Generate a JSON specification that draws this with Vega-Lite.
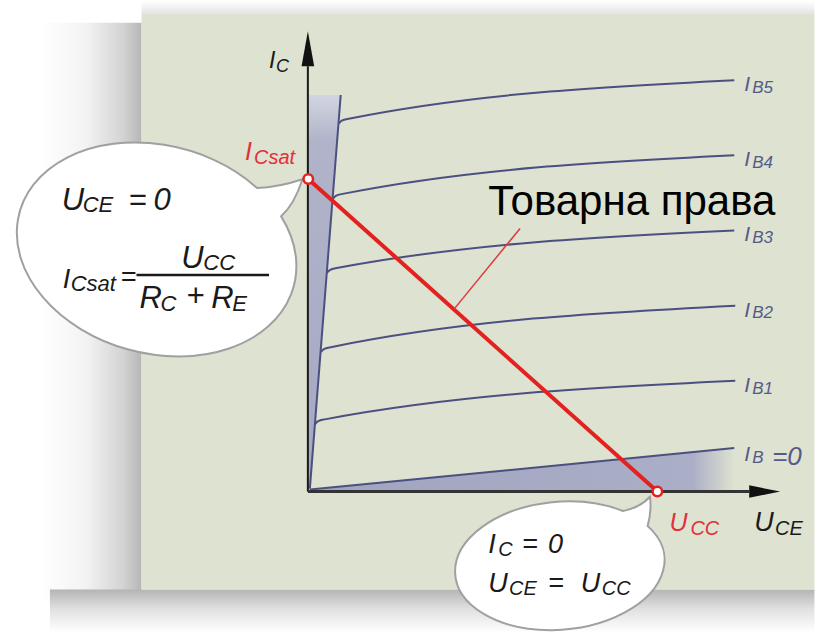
{
  "$schema": "https://vega.github.io/schema/vega-lite/v6.json",
  "width": 815,
  "height": 634,
  "padding": 0,
  "autosize": {"type": "fit", "contains": "padding"},
  "background": "#ffffff",
  "config": {"view": {"stroke": null}},
  "datasets": {
    "shadowTop": [{"u": -4.777, "u2": 14.5, "i": 15.7, "i2": 15.285}],
    "shadowLeft": [{"u": -7.69, "u2": -4.777, "i": 15.0, "i2": -3.5}],
    "shadowBottom": [{"u": -7.4, "u2": 14.5, "i": -3.133, "i2": -4.5}],
    "panel": [{"u": -4.777, "u2": 14.5, "i": 15.285, "i2": -3.133}],
    "satBand": [
      {"i": 12.69, "u": -0.011, "u2": 0.93},
      {"i": 0.095, "u": -0.011, "u2": 0.046}
    ],
    "cutoff": [
      {"u": 0.046, "i": 0.063, "i2": 0},
      {"u": 12.203, "i": 1.392, "i2": 0}
    ],
    "curves": [
      {"c": "IB5", "u": 0.873, "i": 11.772},
      {"c": "IB5", "u": 0.959, "i": 11.867},
      {"c": "IB5", "u": 1.159, "i": 11.931},
      {"c": "IB5", "u": 12.203, "i": 13.165},
      {"c": "IB4", "u": 0.702, "i": 9.367},
      {"c": "IB4", "u": 0.788, "i": 9.462},
      {"c": "IB4", "u": 0.987, "i": 9.525},
      {"c": "IB4", "u": 12.203, "i": 10.76},
      {"c": "IB3", "u": 0.531, "i": 6.994},
      {"c": "IB3", "u": 0.616, "i": 7.089},
      {"c": "IB3", "u": 0.816, "i": 7.152},
      {"c": "IB3", "u": 12.203, "i": 8.355},
      {"c": "IB2", "u": 0.36, "i": 4.462},
      {"c": "IB2", "u": 0.445, "i": 4.557},
      {"c": "IB2", "u": 0.645, "i": 4.62},
      {"c": "IB2", "u": 12.232, "i": 5.949},
      {"c": "IB1", "u": 0.188, "i": 2.152},
      {"c": "IB1", "u": 0.274, "i": 2.247},
      {"c": "IB1", "u": 0.474, "i": 2.31},
      {"c": "IB1", "u": 12.232, "i": 3.544},
      {"c": "IB0", "u": 0.046, "i": 0.063},
      {"c": "IB0", "u": 12.203, "i": 1.392},
      {"c": "env", "u": 0.046, "i": 0.095},
      {"c": "env", "u": 0.93, "i": 12.69}
    ],
    "yAxis": [{"u": -0.011, "i": 0, "i2": 13.608}],
    "xAxis": [{"u": -0.011, "u2": 12.631, "i": 0}],
    "yArrow": [{"u": -0.011, "i": 13.608}],
    "xArrow": [{"u": 12.631, "i": 0}],
    "bubbleLeft": [{"u": -4.349, "i": 7.753}],
    "bubbleBottom": [{"u": 7.209, "i": -2.373}],
    "loadLine": [{"u": 0, "i": 10}, {"u": 10, "i": 0}],
    "pointer": [{"u": 6.067, "i": 8.418}, {"u": 4.17, "i": 5.83}],
    "endpoints": [{"u": 0, "i": 10}, {"u": 10, "i": 0}],
    "fracBar": [{"u": -4.92, "u2": -1.124, "i": 6.93}],
    "txtA": [
      {"t": "U", "u": -7.061, "i": 9.019},
      {"t": "=", "u": -5.148, "i": 9.019},
      {"t": "0", "u": -4.435, "i": 9.019},
      {"t": "U", "u": -3.636, "i": 7.152},
      {"t": "R", "u": -4.835, "i": 5.886},
      {"t": "+", "u": -3.493, "i": 5.949},
      {"t": "R", "u": -2.78, "i": 5.886}
    ],
    "txtB": [
      {"t": "CE", "u": -6.461, "i": 8.956},
      {"t": "Csat", "u": -6.804, "i": 6.424},
      {"t": "CC", "u": -3.008, "i": 7.089},
      {"t": "C", "u": -4.235, "i": 5.791},
      {"t": "E", "u": -2.18, "i": 5.791}
    ],
    "txtC": [
      {"t": "I", "u": -7.032, "i": 6.519},
      {"t": "=", "u": -5.377, "i": 6.582},
      {"t": "I", "u": 5.154, "i": -1.962},
      {"t": "=", "u": 6.124, "i": -1.962},
      {"t": "0", "u": 6.867, "i": -1.962},
      {"t": "U", "u": 5.154, "i": -3.228},
      {"t": "=", "u": 6.867, "i": -3.228},
      {"t": "U", "u": 7.808, "i": -3.228},
      {"t": "U", "u": 12.774, "i": -1.266}
    ],
    "txtD": [
      {"t": "C", "u": 5.44, "i": -2.057},
      {"t": "CE", "u": 5.753, "i": -3.323},
      {"t": "CC", "u": 8.408, "i": -3.323},
      {"t": "CE", "u": 13.373, "i": -1.392}
    ],
    "txtRedMain": [
      {"t": "U", "u": 10.348, "i": -1.266},
      {"t": "I", "u": -1.809, "i": 10.601}
    ],
    "txtRedSub": [
      {"t": "CC", "u": 10.947, "i": -1.392},
      {"t": "Csat", "u": -1.553, "i": 10.475}
    ],
    "txtIC": [{"t": "I", "u": -1.124, "i": 13.545}],
    "txtICsub": [{"t": "C", "u": -0.925, "i": 13.418}],
    "txtBlueMain": [
      {"t": "I", "u": 12.489, "i": 12.817},
      {"t": "I", "u": 12.489, "i": 10.412},
      {"t": "I", "u": 12.489, "i": 8.006},
      {"t": "I", "u": 12.489, "i": 5.601},
      {"t": "I", "u": 12.489, "i": 3.196},
      {"t": "I", "u": 12.489, "i": 0.981}
    ],
    "txtBlueSub": [
      {"t": "B5", "u": 12.717, "i": 12.753},
      {"t": "B4", "u": 12.717, "i": 10.348},
      {"t": "B3", "u": 12.717, "i": 7.943},
      {"t": "B2", "u": 12.717, "i": 5.538},
      {"t": "B1", "u": 12.717, "i": 3.133},
      {"t": "B", "u": 12.717, "i": 0.918}
    ],
    "txtBlueEq": [{"t": "=0", "u": 13.288, "i": 0.854}],
    "txtLoad": [{"t": "Товарна права", "u": 5.154, "i": 8.861}]
  },
  "encoding": {
    "x": {"field": "u", "type": "quantitative", "scale": {"domain": [-8.83, 14.43], "nice": false, "zero": false}, "axis": null},
    "y": {"field": "i", "type": "quantitative", "scale": {"domain": [-4.462, 15.601], "nice": false, "zero": false}, "axis": null}
  },
  "layer": [
    {
      "data": {"name": "shadowTop"},
      "mark": {"type": "rect", "fill": {"gradient": "linear", "x1": 0, "y1": 0, "x2": 0, "y2": 1, "stops": [{"offset": 0, "color": "#ffffff"}, {"offset": 1, "color": "#e4e4e4"}]}},
      "encoding": {"x2": {"field": "u2"}, "y2": {"field": "i2"}}
    },
    {
      "data": {"name": "shadowLeft"},
      "mark": {"type": "rect", "fill": {"gradient": "linear", "x1": 0, "y1": 0, "x2": 1, "y2": 0, "stops": [{"offset": 0, "color": "#ffffff"}, {"offset": 0.45, "color": "#f3f3f3"}, {"offset": 0.82, "color": "#d3d3d3"}, {"offset": 1, "color": "#b6b6b6"}]}},
      "encoding": {"x2": {"field": "u2"}, "y2": {"field": "i2"}}
    },
    {
      "data": {"name": "shadowBottom"},
      "mark": {"type": "rect", "fill": {"gradient": "linear", "x1": 0, "y1": 0, "x2": 0, "y2": 1, "stops": [{"offset": 0, "color": "#b4b4b4"}, {"offset": 0.45, "color": "#e0e0e0"}, {"offset": 1, "color": "#ffffff"}]}},
      "encoding": {"x2": {"field": "u2"}, "y2": {"field": "i2"}}
    },
    {
      "data": {"name": "panel"},
      "mark": {"type": "rect", "fill": "#dee2d0"},
      "encoding": {"x2": {"field": "u2"}, "y2": {"field": "i2"}}
    },
    {
      "data": {"name": "satBand"},
      "mark": {"type": "area", "orient": "horizontal", "fill": {"gradient": "linear", "x1": 0, "y1": 0, "x2": 0, "y2": 1, "stops": [{"offset": 0, "color": "#d2d5e0"}, {"offset": 0.12, "color": "#b0b3c9"}, {"offset": 1, "color": "#a6a9c3"}]}},
      "encoding": {"x2": {"field": "u2"}}
    },
    {
      "data": {"name": "cutoff"},
      "mark": {"type": "area", "orient": "vertical", "fill": {"gradient": "linear", "x1": 0, "y1": 0, "x2": 1, "y2": 0, "stops": [{"offset": 0, "color": "#a0a4bf"}, {"offset": 0.9, "color": "#aaaec6"}, {"offset": 1, "color": "#dee2d0"}]}},
      "encoding": {"y2": {"field": "i2"}}
    },
    {
      "data": {"name": "curves"},
      "mark": {"type": "line", "interpolate": "monotone", "color": "#4b5080", "strokeWidth": 2},
      "encoding": {"detail": {"field": "c"}}
    },
    {
      "data": {"name": "yAxis"},
      "mark": {"type": "rule", "color": "#1a1a1a", "strokeWidth": 2},
      "encoding": {"y2": {"field": "i2"}}
    },
    {
      "data": {"name": "xAxis"},
      "mark": {"type": "rule", "color": "#333333", "strokeWidth": 3},
      "encoding": {"x2": {"field": "u2"}}
    },
    {
      "data": {"name": "yArrow"},
      "mark": {"type": "point", "shape": "M0,-1L-0.18,0L0.18,0Z", "size": 4900, "filled": true, "color": "#111111", "opacity": 1, "strokeWidth": 0},
      "encoding": {}
    },
    {
      "data": {"name": "xArrow"},
      "mark": {"type": "point", "shape": "M1,0L0,-0.2L0,0.2Z", "size": 3844, "filled": true, "color": "#111111", "opacity": 1, "strokeWidth": 0},
      "encoding": {}
    },
    {
      "data": {"name": "bubbleLeft"},
      "mark": {"type": "point", "shape": "M1.007,-0.612A1.42,1.04,15,1,0,1.247,-0.329Q1.38,-0.45,1.46,-0.70Q1.22,-0.62,1.007,-0.612Z", "size": 40000, "filled": true, "fill": "#ffffff", "stroke": "#a0a0a0", "strokeWidth": 2, "opacity": 1},
      "encoding": {}
    },
    {
      "data": {"name": "bubbleBottom"},
      "mark": {"type": "point", "shape": "M0.629,-0.547A1.05,0.64,-5,1,0,0.877,-0.398Q0.92,-0.55,0.90,-0.69Q0.80,-0.58,0.629,-0.547Z", "size": 40000, "filled": true, "fill": "#ffffff", "stroke": "#a0a0a0", "strokeWidth": 2, "opacity": 1},
      "encoding": {}
    },
    {
      "data": {"name": "loadLine"},
      "mark": {"type": "line", "color": "#e3211f", "strokeWidth": 4},
      "encoding": {}
    },
    {
      "data": {"name": "pointer"},
      "mark": {"type": "line", "color": "#e0393e", "strokeWidth": 1.5},
      "encoding": {}
    },
    {
      "data": {"name": "endpoints"},
      "mark": {"type": "point", "shape": "circle", "size": 90, "filled": true, "fill": "#ffffff", "stroke": "#e3211f", "strokeWidth": 2.5, "opacity": 1},
      "encoding": {}
    },
    {
      "data": {"name": "fracBar"},
      "mark": {"type": "rule", "color": "#1a1a1a", "strokeWidth": 2.5},
      "encoding": {"x2": {"field": "u2"}}
    },
    {
      "data": {"name": "txtA"},
      "mark": {"type": "text", "align": "left", "baseline": "alphabetic", "font": "Liberation Sans", "fontStyle": "italic", "fontSize": 31, "color": "#1a1a1a"},
      "encoding": {"text": {"field": "t"}}
    },
    {
      "data": {"name": "txtB"},
      "mark": {"type": "text", "align": "left", "baseline": "alphabetic", "font": "Liberation Sans", "fontStyle": "italic", "fontSize": 22, "color": "#1a1a1a"},
      "encoding": {"text": {"field": "t"}}
    },
    {
      "data": {"name": "txtC"},
      "mark": {"type": "text", "align": "left", "baseline": "alphabetic", "font": "Liberation Sans", "fontStyle": "italic", "fontSize": 27, "color": "#1a1a1a"},
      "encoding": {"text": {"field": "t"}}
    },
    {
      "data": {"name": "txtD"},
      "mark": {"type": "text", "align": "left", "baseline": "alphabetic", "font": "Liberation Sans", "fontStyle": "italic", "fontSize": 20, "color": "#1a1a1a"},
      "encoding": {"text": {"field": "t"}}
    },
    {
      "data": {"name": "txtRedMain"},
      "mark": {"type": "text", "align": "left", "baseline": "alphabetic", "font": "Liberation Sans", "fontStyle": "italic", "fontSize": 25, "color": "#e2303a"},
      "encoding": {"text": {"field": "t"}}
    },
    {
      "data": {"name": "txtRedSub"},
      "mark": {"type": "text", "align": "left", "baseline": "alphabetic", "font": "Liberation Sans", "fontStyle": "italic", "fontSize": 20, "color": "#e2303a"},
      "encoding": {"text": {"field": "t"}}
    },
    {
      "data": {"name": "txtIC"},
      "mark": {"type": "text", "align": "left", "baseline": "alphabetic", "font": "Liberation Sans", "fontStyle": "italic", "fontSize": 23, "color": "#1a1a1a"},
      "encoding": {"text": {"field": "t"}}
    },
    {
      "data": {"name": "txtICsub"},
      "mark": {"type": "text", "align": "left", "baseline": "alphabetic", "font": "Liberation Sans", "fontStyle": "italic", "fontSize": 18, "color": "#1a1a1a"},
      "encoding": {"text": {"field": "t"}}
    },
    {
      "data": {"name": "txtBlueMain"},
      "mark": {"type": "text", "align": "left", "baseline": "alphabetic", "font": "Liberation Sans", "fontStyle": "italic", "fontSize": 21, "color": "#555a88"},
      "encoding": {"text": {"field": "t"}}
    },
    {
      "data": {"name": "txtBlueSub"},
      "mark": {"type": "text", "align": "left", "baseline": "alphabetic", "font": "Liberation Sans", "fontStyle": "italic", "fontSize": 17, "color": "#555a88"},
      "encoding": {"text": {"field": "t"}}
    },
    {
      "data": {"name": "txtBlueEq"},
      "mark": {"type": "text", "align": "left", "baseline": "alphabetic", "font": "Liberation Sans", "fontStyle": "italic", "fontSize": 26, "color": "#555a88"},
      "encoding": {"text": {"field": "t"}}
    },
    {
      "data": {"name": "txtLoad"},
      "mark": {"type": "text", "align": "left", "baseline": "alphabetic", "font": "Liberation Sans", "fontSize": 42, "color": "#000000"},
      "encoding": {"text": {"field": "t"}}
    }
  ]
}
